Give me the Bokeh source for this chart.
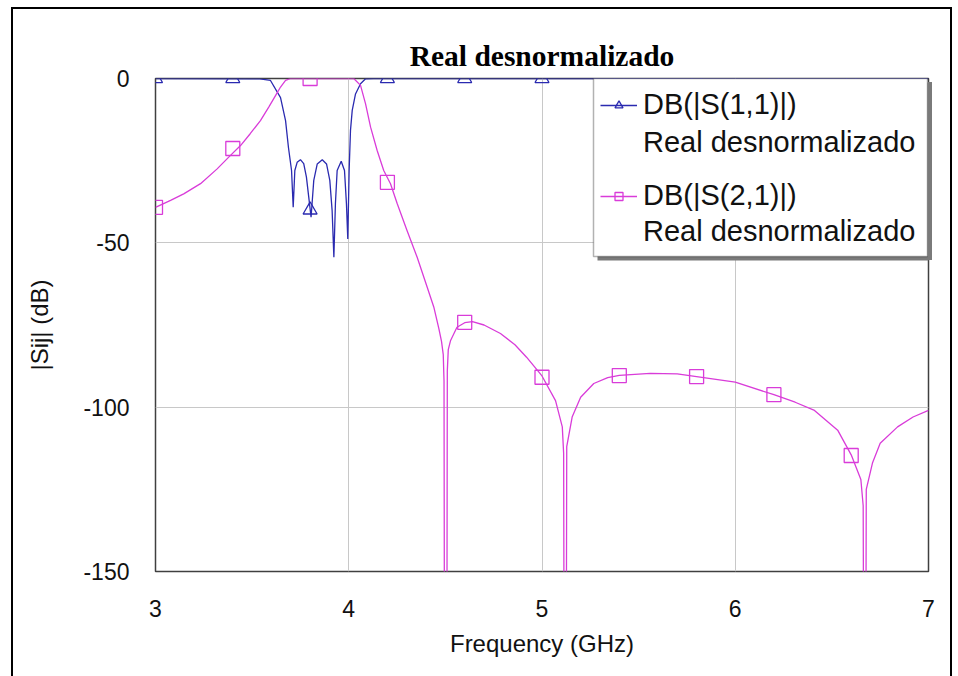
from bokeh.plotting import figure
from bokeh.models import FixedTicker, Legend, LegendItem, BoxAnnotation, Range1d, InlineStyleSheet
from bokeh.embed import file_html
from bokeh.resources import INLINE

# ---- data ----
freq_s11 = [3.0, 3.54, 3.595, 3.647, 3.673, 3.688, 3.704, 3.7125, 3.721, 3.733, 3.75,
            3.767, 3.781, 3.793, 3.805, 3.819, 3.837, 3.863, 3.885, 3.902, 3.914, 3.923,
            3.931, 3.94, 3.961, 3.978, 3.988, 3.995, 4.002, 4.009, 4.018, 4.035, 4.061,
            4.087, 4.128, 7.0]
s11_db = [0.0, -0.1, -0.6, -5.8, -12.8, -21.0, -28.0, -39.2, -28.0, -25.5, -24.7,
          -25.9, -30.0, -36.1, -42.2, -31.0, -26.0, -24.7, -26.0, -31.0, -40.2, -54.4,
          -38.1, -28.0, -25.2, -28.0, -38.0, -48.8, -28.0, -15.8, -9.7, -4.7, -1.6,
          -0.1, 0.0, 0.0]

freq_s21 = [3.0, 3.078, 3.146, 3.233, 3.319, 3.388, 3.44, 3.49, 3.543, 3.586, 3.621,
            3.647, 3.673, 3.699, 3.8, 3.9, 4.026, 4.061, 4.087, 4.113, 4.147, 4.181,
            4.216, 4.251, 4.302, 4.354, 4.406, 4.44, 4.466, 4.48, 4.489, 4.493, 4.495,
            4.508, 4.51, 4.515, 4.527, 4.56, 4.6, 4.64, 4.7, 4.785, 4.86, 4.92, 5.0,
            5.07, 5.105, 5.112, 5.114, 5.126, 5.128, 5.156, 5.2, 5.268, 5.34, 5.4, 5.56,
            5.7, 5.8, 6.0, 6.2, 6.31, 6.41, 6.53, 6.6, 6.65, 6.662, 6.664, 6.676, 6.678,
            6.71, 6.75, 6.84, 6.92, 7.0]
s21_db = [-39.2, -37.1, -35.1, -32.0, -27.5, -23.4, -20.4, -16.8, -12.8, -8.7, -5.2,
          -2.6, -0.6, 0.0, 0.0, 0.0, 0.0, -2.1, -7.7, -14.8, -21.9, -28.0,
          -32.0, -38.1, -46.3, -54.4, -63.5, -69.5, -76.0, -80.0, -84.0, -92.0, -170.0,
          -170.0, -89.0, -82.5, -79.7, -75.7, -74.3, -74.0, -75.0, -77.6, -81.0, -84.8, -90.5,
          -98.0, -106.0, -114.0, -170.0, -170.0, -112.0, -103.0, -97.0, -92.8, -91.0, -90.3, -89.7,
          -89.9, -90.7, -92.4, -96.2, -98.5, -101.0, -107.0, -114.5, -122.0, -130.0, -170.0, -170.0, -125.0,
          -117.0, -111.0, -106.0, -103.0, -101.0]

marker_freq = [3.0, 3.4, 3.8, 4.2, 4.6, 5.0, 5.4, 5.8, 6.2, 6.6]
s11_marker_db = [0.0, 0.0, -40.0, 0.0, 0.0, 0.0, 0.0, 0.0, 0.0, 0.0]
s21_marker_db = [-39.2, -21.3, 0.0, -31.6, -74.2, -90.9, -90.4, -90.7, -96.2, -114.7]

x_ticks = [3, 4, 5, 6, 7]
y_ticks = [0, -50, -100, -150]
y_tick_text = ["0", "-50", "-100", "-150"]
grid_x = [4, 5, 6]
grid_y = [-50, -100]

title_text = "Real desnormalizado"
trace_s11 = "DB(|S(1,1)|)"
trace_s21 = "DB(|S(2,1)|)"
trace_sub = "Real desnormalizado"

BLUE = "#2A2AB0"
MAGENTA = "#D93CD9"

W, H = 958, 676
FL, FR, FT, FB = 155, 928, 78, 571   # frame edges in canvas pixels
LB_L, LB_R, LB_T, LB_B = 593, 927, 78, 256   # legend box

# picture border and the part of the legend shadow outside the frame
css = InlineStyleSheet(css=f"""
:host::after {{
  content: ""; position: absolute; left: 11px; top: 7px;
  width: 941px; height: {H - 7}px; box-sizing: border-box;
  border-left: 2px solid black; border-top: 2px solid black;
  border-right: 2px solid black; border-bottom: none;
  background: none; pointer-events: none; z-index: 100;
}}
:host::before {{
  content: ""; position: absolute; left: {FR}px; top: {LB_T + 4}px;
  width: {LB_R + 5 - FR}px; height: {LB_B - LB_T}px;
  border: none; background: #7A7A7A; pointer-events: none; z-index: 100;
}}
""")

p = figure(width=W, height=H, output_backend="svg", toolbar_location=None,
           x_range=Range1d(3, 7), y_range=Range1d(-150, 0),
           min_border_left=FL, min_border_right=W - FR, min_border_top=FT,
           min_border_bottom=H - FB)
p.stylesheets = [css]

p.background_fill_color = "white"
p.border_fill_color = "white"
p.outline_line_color = "#404040"
p.outline_line_width = 1.5

p.title.text = title_text
p.title.align = "center"
p.title.text_font = "Liberation Serif"
p.title.text_font_size = "29.5px"
p.title.text_font_style = "bold"
p.title.text_color = "black"
p.title.standoff = 13

for ax in (p.xaxis[0], p.yaxis[0]):
    ax.major_tick_line_color = None
    ax.minor_tick_line_color = None
    ax.axis_line_color = None
    ax.major_label_text_font = "Liberation Sans"
    ax.major_label_text_font_size = "23px"
    ax.major_label_text_color = "#111111"
    ax.axis_label_text_font = "Liberation Sans"
    ax.axis_label_text_font_size = "24px"
    ax.axis_label_text_font_style = "normal"
    ax.axis_label_text_color = "#111111"

p.xaxis.ticker = FixedTicker(ticks=x_ticks)
p.yaxis.ticker = FixedTicker(ticks=y_ticks)
p.yaxis.major_label_overrides = {t: s for t, s in zip(y_ticks, y_tick_text)}
p.xaxis.major_label_standoff = 22
p.yaxis.major_label_standoff = 20
p.xaxis.axis_label = "Frequency (GHz)"
p.yaxis.axis_label = "|Sij| (dB)"
p.xaxis.axis_label_standoff = 10
p.yaxis.axis_label_standoff = 27

p.xgrid.ticker = FixedTicker(ticks=grid_x)
p.ygrid.ticker = FixedTicker(ticks=grid_y)
p.grid.grid_line_color = "#C8C8C8"
p.grid.grid_line_width = 1

r11_line = p.line(freq_s11, s11_db, line_color=BLUE, line_width=1.3)
r11_mk = p.scatter(marker_freq, s11_marker_db, marker="triangle", size=14,
                   line_color=BLUE, fill_color=None, line_width=1.3)
r21_line = p.line(freq_s21, s21_db, line_color=MAGENTA, line_width=1.3)
r21_mk = p.scatter(marker_freq, s21_marker_db, marker="square", size=14,
                   line_color=MAGENTA, fill_color=None, line_width=1.3)
r_blank = p.line(x=[], y=[], line_alpha=0)

# legend shadow and box
p.add_layout(BoxAnnotation(left=LB_L + 4, right=LB_R + 5, top=LB_T + 4, bottom=LB_B + 4,
                           left_units="canvas", right_units="canvas",
                           top_units="canvas", bottom_units="canvas",
                           fill_color="#7A7A7A", fill_alpha=1, line_alpha=0))
p.add_layout(BoxAnnotation(left=LB_L, right=LB_R, top=LB_T, bottom=LB_B,
                           left_units="canvas", right_units="canvas",
                           top_units="canvas", bottom_units="canvas",
                           fill_color="white", fill_alpha=1,
                           line_color="black", line_width=1.5))


def make_legend(items, bottom, spacing):
    lg = Legend(items=items, location=(600 - FL, FB - bottom))
    lg.margin = 0
    lg.padding = 0
    lg.spacing = spacing
    lg.glyph_width = 37
    lg.glyph_height = 20
    lg.label_standoff = 6
    lg.label_text_font = "Liberation Sans"
    lg.label_text_font_size = "29px"
    lg.label_text_color = "#111111"
    lg.border_line_color = None
    lg.background_fill_alpha = 0
    return lg


leg1 = make_legend([LegendItem(label=trace_s11, renderers=[r11_line, r11_mk]),
                    LegendItem(label=trace_sub, renderers=[r_blank])], 159, 5)
leg2 = make_legend([LegendItem(label=trace_s21, renderers=[r21_line, r21_mk]),
                    LegendItem(label=trace_sub, renderers=[r_blank])], 248, 3)
p.add_layout(leg1)
p.add_layout(leg2)

open("out.html", "w").write(file_html(p, INLINE))
